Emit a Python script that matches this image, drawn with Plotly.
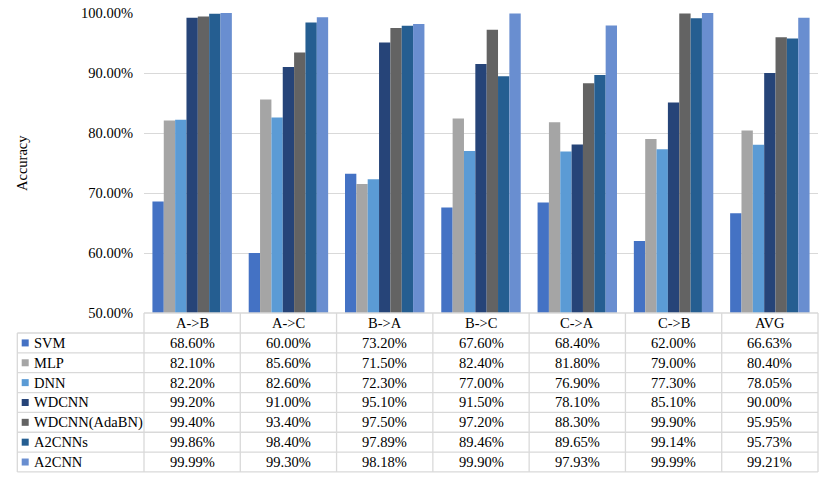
import plotly.graph_objects as go

categories = ["A->B", "A->C", "B->A", "B->C", "C->A", "C->B", "AVG"]
svm = [68.60, 60.00, 73.20, 67.60, 68.40, 62.00, 66.63]
mlp = [82.10, 85.60, 71.50, 82.40, 81.80, 79.00, 80.40]
dnn = [82.20, 82.60, 72.30, 77.00, 76.90, 77.30, 78.05]
wdcnn = [99.20, 91.00, 95.10, 91.50, 78.10, 85.10, 90.00]
wdcnn_adabn = [99.40, 93.40, 97.50, 97.20, 88.30, 99.90, 95.95]
a2cnns = [99.86, 98.40, 97.89, 89.46, 89.65, 99.14, 95.73]
a2cnn = [99.99, 99.30, 98.18, 99.90, 97.93, 99.99, 99.21]

series_names = ["SVM", "MLP", "DNN", "WDCNN", "WDCNN(AdaBN)", "A2CNNs", "A2CNN"]
series_values = [svm, mlp, dnn, wdcnn, wdcnn_adabn, a2cnns, a2cnn]
colors = ["#4472C4", "#A5A5A5", "#5B9BD5", "#264478", "#636363", "#255E91", "#698ED0"]

W, H = 830, 477
L, R, T, B = 144, 12, 13, 164
PW = W - L - R
PH = H - T - B
FONT = "Liberation Serif"
FS = 14.5
GRID = "#D9D9D9"

def px_x(px):
    return (px - L) / PW

def px_y(py):
    return (H - B - py) / PH

fig = go.Figure()
for name, vals, col in zip(series_names, series_values, colors):
    fig.add_trace(go.Bar(
        x=categories, y=[v / 100 for v in vals], name=name,
        marker=dict(color=col, line=dict(width=0)),
        showlegend=False, hoverinfo="skip",
    ))

shapes = []
annotations = []

table_top = H - B
header_h = 20
row_h = 19.85
n_rows = len(series_names)
table_bottom = table_top + header_h + n_rows * row_h
left_edge = 17.3
ncat = len(categories)

def line(x0, y0, x1, y1):
    shapes.append(dict(type="line", xref="paper", yref="paper",
                       x0=x0, y0=y0, x1=x1, y1=y1,
                       line=dict(color=GRID, width=1.3)))

line(0, px_y(table_top), 1, px_y(table_top))
for r in range(n_rows + 1):
    yy = table_top + header_h + r * row_h
    line(px_x(left_edge), px_y(yy), 1, px_y(yy))
line(px_x(left_edge), px_y(table_top + header_h), px_x(left_edge), px_y(table_bottom))
for c in range(ncat + 1):
    xx = c / ncat
    line(xx, px_y(table_top), xx, px_y(table_bottom))

txt_font = dict(family=FONT, size=FS, color="#000000")

for c, cat in enumerate(categories):
    annotations.append(dict(
        x=(c + 0.5) / ncat, y=px_y(table_top + header_h / 2), xref="paper", yref="paper",
        text=cat, showarrow=False, font=txt_font,
        xanchor="center", yanchor="middle"))

for r, (name, vals, col) in enumerate(zip(series_names, series_values, colors)):
    yc = table_top + header_h + (r + 0.5) * row_h
    shapes.append(dict(type="rect", xref="paper", yref="paper",
                       x0=px_x(21.7), x1=px_x(28.7),
                       y0=px_y(yc - 3.5), y1=px_y(yc + 3.5),
                       fillcolor=col, line=dict(width=0)))
    annotations.append(dict(
        x=px_x(31.5), y=px_y(yc), xref="paper", yref="paper", text=name,
        showarrow=False, font=txt_font,
        xanchor="left", yanchor="middle"))
    for c, v in enumerate(vals):
        annotations.append(dict(
            x=(c + 0.5) / ncat, y=px_y(yc), xref="paper", yref="paper",
            text=f"{v:.2f}%", showarrow=False, font=txt_font,
            xanchor="center", yanchor="middle"))

annotations.append(dict(
    x=px_x(22), y=0.5, xref="paper", yref="paper", text="Accuracy",
    textangle=-90, showarrow=False, font=txt_font,
    xanchor="center", yanchor="middle"))

fig.update_layout(
    width=W, height=H,
    margin=dict(l=L, r=R, t=T, b=B, pad=0, autoexpand=False),
    paper_bgcolor="white", plot_bgcolor="white",
    barmode="group", bargap=0.175, bargroupgap=0,
    font=dict(family=FONT, size=FS, color="#000000"),
    hovermode=False,
    xaxis=dict(showticklabels=False, showgrid=False, zeroline=False,
               showline=False, ticks="", range=[-0.5, ncat - 0.5], automargin=False),
    yaxis=dict(range=[0.5, 1.0], dtick=0.1, tick0=0.5, tickformat=".2%",
               showgrid=True, gridcolor=GRID, gridwidth=1.3, zeroline=False,
               showline=False, ticks="", ticklabelstandoff=10, automargin=False,
               tickfont=txt_font),
    shapes=shapes, annotations=annotations,
)

fig.write_html("out.html", config={"displayModeBar": False},
               post_script="document.body.style.margin='0';document.body.style.padding='0';")
